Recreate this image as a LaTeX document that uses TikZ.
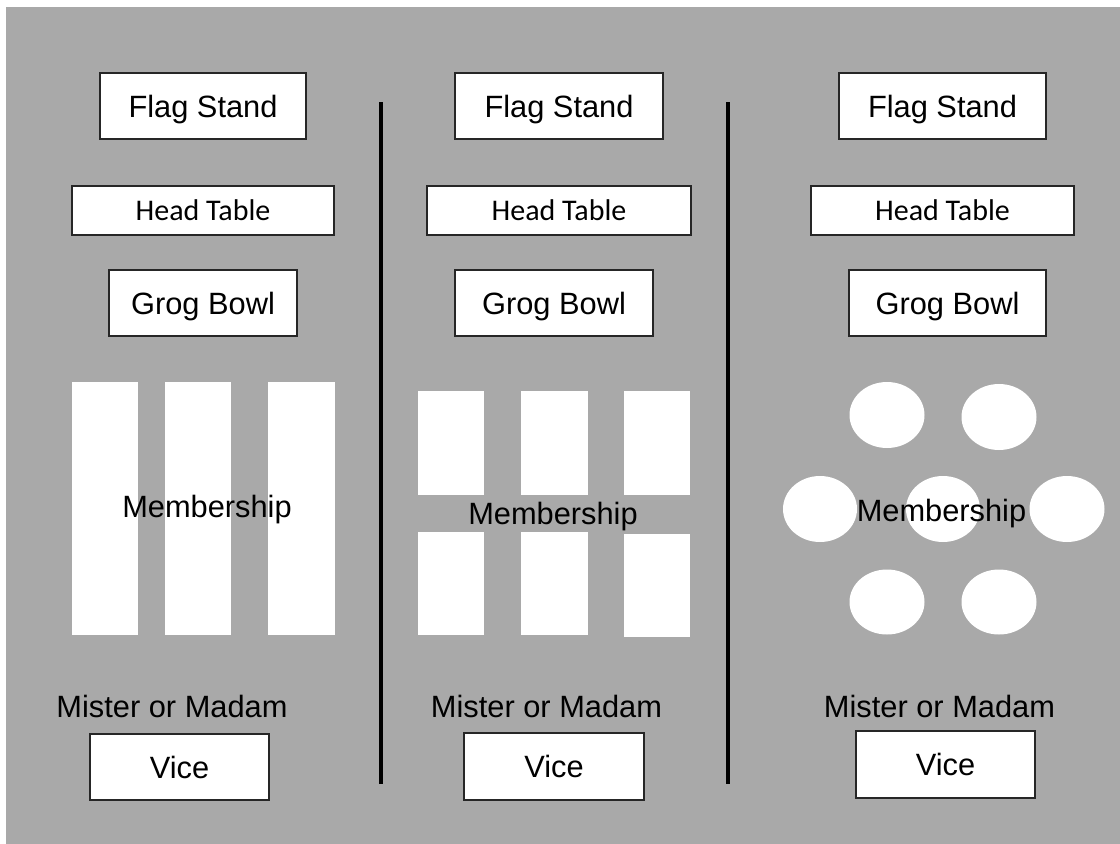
\documentclass[tikz,border=0pt]{standalone}
\usepackage{fontspec}
\setmainfont{Liberation Sans}
\newfontfamily\tablefont{Carlito}
\definecolor{floor}{HTML}{A9A9A9}
\tikzset{
  signbox/.style={draw=black!85, line width=2pt, fill=white, inner sep=0pt, outer sep=0pt,
    text height=22pt, text depth=0pt, font=\fontsize{30.8}{36}\selectfont},
  headbox/.style={signbox, text height=19.5pt, font=\tablefont\fontsize{30}{36}\selectfont},
  roomtext/.style={inner sep=0pt, text height=22pt, text depth=0pt, font=\fontsize{30.8}{36}\selectfont},
  wall/.style={line width=4.5pt},
}
\begin{document}
\begin{tikzpicture}[x=1pt, y=-1pt]

    \useasboundingbox (0,0) rectangle (1120,844);

    % Floor
    \fill[floor] (6,7) rectangle (1120,844);

    % Dividers
    \draw[wall] (381,102) -- (381,784);
    \draw[wall] (728,102) -- (728,784);

    % Left room: long tables
    \fill[white] (72,382) rectangle (138,635);
    \fill[white] (165,382) rectangle (231,635);
    \fill[white] (268,382) rectangle (335,635);

    % Middle room: short tables
    \fill[white] (418,391) rectangle (484,495);
    \fill[white] (521,391) rectangle (588,495);
    \fill[white] (624,391) rectangle (690,495);
    \fill[white] (418,532) rectangle (484,635);
    \fill[white] (521,532) rectangle (588,635);
    \fill[white] (624,534) rectangle (690,637);

    % Right room: round tables
    \fill[white] (887,415) ellipse [x radius=37.5, y radius=33];
    \fill[white] (999,417) ellipse [x radius=37.5, y radius=33];
    \fill[white] (820,509) ellipse [x radius=37, y radius=33];
    \fill[white] (943,509) ellipse [x radius=37, y radius=33];
    \fill[white] (1067,509) ellipse [x radius=37.5, y radius=33];
    \fill[white] (887,602) ellipse [x radius=37.5, y radius=32.5];
    \fill[white] (999,602) ellipse [x radius=37.5, y radius=32.5];

    % Flag stands
    \node[signbox, minimum width=206pt, minimum height=66pt] (flag1) at (203,106) {Flag Stand};
    \node[signbox, minimum width=208pt, minimum height=66pt] (flag2) at (559,106) {Flag Stand};
    \node[signbox, minimum width=207pt, minimum height=66pt] (flag3) at (942.5,106) {Flag Stand};

    % Head tables
    \node[headbox, minimum width=262pt, minimum height=49pt] (head1) at (203,210.5) {Head Table};
    \node[headbox, minimum width=264pt, minimum height=49pt] (head2) at (559,210.5) {Head Table};
    \node[headbox, minimum width=263pt, minimum height=49pt] (head3) at (942.5,210.5) {Head Table};

    % Grog bowls
    \node[signbox, minimum width=188pt, minimum height=66pt] (grog1) at (203,303) {Grog Bowl};
    \node[signbox, minimum width=198pt, minimum height=66pt] (grog2) at (554,303) {Grog Bowl};
    \node[signbox, minimum width=197pt, minimum height=66pt] (grog3) at (947.5,303) {Grog Bowl};

    % Membership
    \node[roomtext] (memb1) at (207,506.5) {Membership};
    \node[roomtext] (memb2) at (553,513) {Membership};
    \node[roomtext] (memb3) at (941.5,510.5) {Membership};

    % Mister or Madam Vice
    \node[roomtext] (mister1) at (172,706.5) {Mister or Madam};
    \node[roomtext] (mister2) at (546.5,706.5) {Mister or Madam};
    \node[roomtext] (mister3) at (939.5,706.5) {Mister or Madam};
    \node[signbox, minimum width=179pt, minimum height=66pt] (vice1) at (179.5,767) {Vice};
    \node[signbox, minimum width=180pt, minimum height=67pt] (vice2) at (554,766.5) {Vice};
    \node[signbox, minimum width=179pt, minimum height=67pt] (vice3) at (945.5,764.5) {Vice};

\end{tikzpicture}
\end{document}
